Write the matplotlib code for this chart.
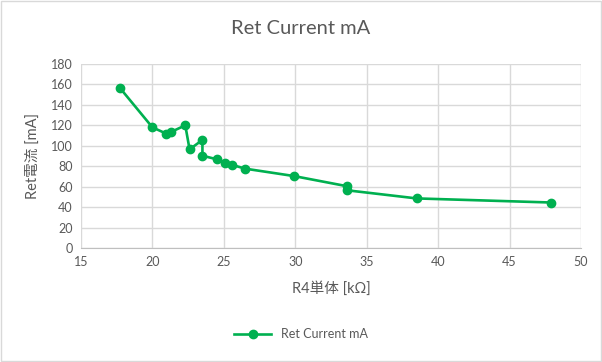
import matplotlib
matplotlib.use('Agg')
import matplotlib.pyplot as plt
from matplotlib.patches import Rectangle

# data (R4 resistance kOhm, current mA)
r4_kohm = [17.7, 20.0, 20.95, 21.3, 22.3, 22.6, 23.5, 23.5, 24.5, 25.1, 25.6, 26.5, 29.9, 33.6, 33.6, 38.5, 47.9]
current_ma = [157, 118, 112, 113.5, 120, 96.5, 105.7, 90.3, 86.8, 83.5, 81.2, 77.6, 70.4, 60.5, 56.5, 48.5, 44.5]

x_ticks = [15, 20, 25, 30, 35, 40, 45, 50]
y_ticks = list(range(0, 181, 20))

green = '#00B050'
text_grey = '#595959'
fonts = ['Lato', 'Noto Sans CJK JP', 'DejaVu Sans']
plt.rcParams['font.family'] = fonts

fig = plt.figure(figsize=(6.02, 3.62), dpi=100)
ax = fig.add_axes([81 / 602, 1 - 248 / 362, (581 - 81) / 602, (248 - 64) / 362])

# outer chart border
fig.patches.append(Rectangle((0.001, 0.002), 0.997, 0.995, transform=fig.transFigure,
                             fill=False, edgecolor='#D9D9D9', linewidth=1))

ax.plot(r4_kohm, current_ma, color=green, linewidth=1.9, marker='o',
        markersize=6, markerfacecolor=green, markeredgecolor=green,
        label='Ret Current mA', zorder=3)

ax.set_xlim(15, 50)
ax.set_ylim(0, 180)
ax.set_xticks(x_ticks)
ax.set_yticks(y_ticks)
ax.grid(True, color='#D9D9D9', linewidth=1)
ax.set_axisbelow(True)
for side in ['left', 'right', 'top']:
    ax.spines[side].set_visible(False)
ax.spines['bottom'].set_color('#BFBFBF')
ax.tick_params(length=0, labelsize=9, labelcolor=text_grey, pad=6)

ax.set_xlabel('R4単体 [kΩ]', fontsize=10.5, color=text_grey, labelpad=9)
ax.set_ylabel('Ret電流 [mA]', fontsize=10.5, color=text_grey, labelpad=8)
fig.suptitle('Ret Current mA', fontsize=14.5, color=text_grey, y=0.945)

fig.legend(loc='lower center', bbox_to_anchor=(0.5, 0.03), frameon=False,
           fontsize=9, labelcolor=text_grey, handlelength=3)

fig.savefig('out.png', dpi=100)
